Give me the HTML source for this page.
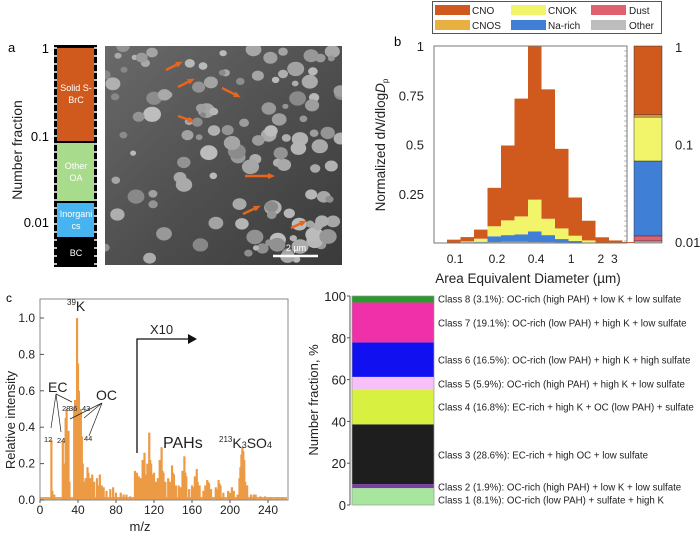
<!DOCTYPE html>
<html><head><meta charset="utf-8"><style>
body{margin:0;background:#fff;}
svg{display:block;font-family:"Liberation Sans",Arial,sans-serif;}
</style></head><body>
<svg id="fig" width="700" height="538" viewBox="0 0 700 538">
<!-- Panel a -->
<g id="pa">
<text x="8" y="52" font-size="13">a</text>
<text transform="translate(22,150) rotate(-90)" text-anchor="middle" font-size="14" fill="#222">Number fraction</text>
<text x="49" y="53" text-anchor="end" font-size="13">1</text>
<text x="49" y="141" text-anchor="end" font-size="13">0.1</text>
<text x="49" y="227" text-anchor="end" font-size="13">0.01</text>
<rect x="54" y="45" width="43" height="222" fill="#000"/>
<rect x="57" y="48" width="37" height="93" fill="#d05a1e"/>
<rect x="57" y="143" width="37" height="58" fill="#a8dc8c"/>
<rect x="57" y="203" width="37" height="34" fill="#45b4f0"/>
<g font-size="9" fill="#fff" text-anchor="middle">
<text x="76" y="91">Solid S-</text>
<text x="76" y="103">BrC</text>
<text x="76" y="169">Other</text>
<text x="76" y="181">OA</text>
<text x="76" y="217">Inorgani</text>
<text x="76" y="229">cs</text>
<text x="76" y="256">BC</text>
</g>
<g id="aticks"></g>
<defs><linearGradient id="semg" x1="0" y1="0" x2="1" y2="1"><stop offset="0" stop-color="#6a6a6a"/><stop offset="0.5" stop-color="#505050"/><stop offset="1" stop-color="#3a3a3a"/></linearGradient>
<clipPath id="semclip"><rect x="105" y="46" width="237" height="219"/></clipPath></defs>
<g clip-path="url(#semclip)">
<rect x="105" y="46" width="237" height="219" fill="url(#semg)"/>
<g id="semdots"></g>
</g>
<g id="semarrows" stroke="#e8651e" stroke-width="2.5" fill="#e8651e"></g>
<line x1="273" y1="256" x2="318" y2="256" stroke="#fff" stroke-width="2.5"/>
<text x="296" y="251" fill="#fff" font-size="9" text-anchor="middle">2 µm</text>
</g>

<!-- Panel b -->
<g id="pb">
<rect x="432.5" y="1.5" width="229" height="32" fill="#fff" stroke="#555"/>
<g id="blegend" font-size="10"></g>
<text x="394" y="46" font-size="13">b</text>
<text transform="translate(385,145) rotate(-90)" text-anchor="middle" font-size="13.5" fill="#222">Normalized d<tspan font-style="italic">N</tspan>/dlog<tspan font-style="italic">D</tspan><tspan font-size="8" dy="3">p</tspan></text>
<g id="bplot"></g>
<text x="528" y="283" text-anchor="middle" font-size="13.5" fill="#222">Area Equivalent Diameter (µm)</text>
<g id="bside"></g>
</g>

<!-- Panel c -->
<g id="pc">
<text x="6" y="302" font-size="12">c</text>
<text transform="translate(15,420) rotate(-90)" text-anchor="middle" font-size="13" fill="#222">Relative intensity</text>
<text x="140" y="531" text-anchor="middle" font-size="13" fill="#222">m/z</text>
<g id="cplot"></g>
</g>

<!-- Panel d -->
<g id="pd">
<text transform="translate(318,400) rotate(-90)" text-anchor="middle" font-size="13" fill="#222">Number fraction, %</text>
<g id="dplot"></g>
</g>
</svg>
<script>
// ---------- Panel b data ----------
const bBins = [1,2,3,4,5,6,7,8,9,10,11,12,13,14,15];
const bOther = [0,0.003,0.004,0.005,0.006,0.006,0.005,0.004,0.003,0.002,0,0,0,0,0];
const bNaRich = [0,0.001,0.002,0.029,0.034,0.038,0.054,0.036,0.017,0.008,0.003,0,0,0,0];
const bCNOK = [0,0.004,0.016,0.051,0.075,0.091,0.161,0.083,0.054,0.027,0.01,0.002,0,0,0];
const bCNO = [0.017,0.022,0.046,0.195,0.38,0.598,0.78,0.657,0.404,0.194,0.1,0.027,0.013,0.005,0.003];
const bYTicks = [0.25,0.5,0.75,1];
const bXTickLabels = ["0.1","0.2","0.4","1","2","3"];
const bXTickPos = [0.6,3.7,6.6,9.2,11.4,12.4];
const bSideBounds = [0.01,0.0105,0.0118,0.068,0.19,0.2,1];
const bSideNames = ["other","dust","na-rich","cnok","cnos","cno"];
const bSideTicks = [1,0.1,0.01];
const bColors = {cno:"#d05a1e",cnos:"#e8b040",cnok:"#f2f56a",narich:"#3f7fd6",dust:"#e06070",other:"#bdbdbd"};

// ---------- Panel c data ----------
const cMz = [12,13,15,24,25,26,27,28,29,30,31,36,37,38,39,40,41,42,43,44,45,46,48,50,51,52,53,55,56,57,60,62,63,65,67,70,74,77,80,85,88,91,95,
 100,101,102,103,104,105,106,108,109,110,111,113,114,115,116,117,119,120,122,124,126,127,128,129,130,132,135,137,139,140,141,143,146,148,150,151,152,153,154,157,160,162,163,164,165,166,168,172,174,176,177,178,180,185,187,188,189,190,193,198,200,202,204,208,210,211,212,213,214,215,216,218,222,225,227,232,237,243,250,255];
const cInt = [0.33,0.05,0.03,0.32,0.1,0.2,0.45,0.5,0.35,0.38,0.1,0.5,0.55,0.35,1.0,0.75,0.6,0.45,0.5,0.35,0.2,0.1,0.12,0.18,0.15,0.1,0.12,0.14,0.08,0.1,0.12,0.08,0.14,0.08,0.07,0.05,0.06,0.07,0.04,0.04,0.03,0.03,0.02,
 0.16,0.14,0.15,0.12,0.13,0.11,0.12,0.22,0.2,0.26,0.14,0.2,0.18,0.37,0.22,0.2,0.14,0.15,0.1,0.12,0.22,0.2,0.29,0.16,0.15,0.1,0.12,0.1,0.19,0.15,0.14,0.08,0.08,0.07,0.16,0.13,0.24,0.15,0.13,0.06,0.08,0.07,0.13,0.12,0.17,0.1,0.08,0.05,0.08,0.11,0.1,0.09,0.06,0.07,0.06,0.11,0.09,0.08,0.04,0.05,0.04,0.07,0.05,0.03,0.12,0.18,0.25,0.29,0.27,0.22,0.1,0.08,0.03,0.03,0.03,0.02,0.02,0.015,0.015,0.012];
const cYTicks = [0,0.2,0.4,0.6,0.8,1.0];
const cXTicks = [0,40,80,120,160,200,240];

// ---------- Panel d data ----------
const dClasses = ["Class 1 (8.1%): OC-rich (low PAH) + sulfate + high K","Class 2 (1.9%): OC-rich (high PAH) + low K + low sulfate","Class 3 (28.6%): EC-rich + high OC + low sulfate","Class 4 (16.8%): EC-rich + high K + OC (low PAH) + sulfate","Class 5 (5.9%): OC-rich (high PAH) + high K + low sulfate","Class 6 (16.5%): OC-rich (low PAH) + high K + high sulfate","Class 7 (19.1%): OC-rich (low PAH) + high K + low sulfate","Class 8 (3.1%): OC-rich (high PAH) + low K + low sulfate"];
const dValues = [8.1,1.9,28.6,16.8,5.9,16.5,19.1,3.1];
const dColors = ["#a8e6a0","#7b3fa0","#1e1e1e","#d8f040","#f8c0f8","#1010f0","#f030a8","#2a9a2a"];
const dLabelY = [500,487,455,407,384,360,323,299];
const dYTicks = [0,20,40,60,80,100];

const NS="http://www.w3.org/2000/svg";
function mk(parent,tag,attrs,txt){const e=document.createElementNS(NS,tag);for(const k in attrs)e.setAttribute(k,attrs[k]);if(txt!==undefined)e.textContent=txt;parent.appendChild(e);return e;}

// ---- panel a ticks
const at=document.getElementById('aticks');
for(let i=0;i<28;i++){const y=48+i*8;
 let t=mk(at,'line',{x1:54,x2:57,y1:y,y2:y,stroke:'#fff','stroke-width':1.5});
 
 
 t=mk(at,'line',{x1:94,x2:97,y1:y,y2:y,stroke:'#fff','stroke-width':1.5});
 
 }
// ---- SEM image particles (decorative texture)
const sd=document.getElementById('semdots');let seed=7;function rnd(){seed=(seed*16807)%2147483647;return seed/2147483647;}
for(let i=0;i<130;i++){const x=105+rnd()*237,y=46+rnd()*219,r=3+rnd()*6,g=Math.floor(135+rnd()*55);
 const c=mk(sd,'ellipse',{cx:x.toFixed(1),cy:y.toFixed(1),rx:r.toFixed(1),ry:(r*0.85).toFixed(1),fill:`rgb(${g},${g},${g})`});
 
 }
[[166,70,180,63],[178,87,192,80],[222,88,238,96],[178,116,192,121],[245,176,272,176],[243,214,258,207],[291,228,304,222]].forEach(a=>{
 const g=document.getElementById('semarrows');
 const l=mk(g,'line',{x1:a[0],y1:a[1],x2:a[2],y2:a[3]});
 
 
 const ang=Math.atan2(a[3]-a[1],a[2]-a[0]),s=5;
 const p=mk(g,'polygon',{points:`${a[2]+Math.cos(ang)*3},${a[3]+Math.sin(ang)*3} ${a[2]+Math.cos(ang+2.5)*s},${a[3]+Math.sin(ang+2.5)*s} ${a[2]+Math.cos(ang-2.5)*s},${a[3]+Math.sin(ang-2.5)*s}`,stroke:'none'});
 
 });

// ---- panel b legend
const bl=document.getElementById('blegend');
[["CNO",bColors.cno,435,5],["CNOK",bColors.cnok,511,5],["Dust",bColors.dust,591,5],["CNOS",bColors.cnos,435,20],["Na-rich",bColors.narich,511,20],["Other",bColors.other,591,20]].forEach(e=>{
 const r=mk(bl,'rect',{x:e[2],y:e[3],width:35,height:10,fill:e[1]});
 
 
 const t=mk(bl,'text',{x:e[2]+ (e[0]==="Dust"||e[0]==="Other"?38:37),y:e[3]+9,fill:'#222'},e[0]);
 
 });

// ---- panel b histogram
const bp=document.getElementById('bplot');
const bx0=447,bw=13.5,bY0=243,bY1=46;
const bxs=i=>bx0+i*bw; const bys=v=>bY0-v*(bY0-bY1);
bBins.forEach((b,i)=>{let base=0;
 [[bOther[i],bColors.other,'other'],[bNaRich[i],bColors.narich,'na-rich'],[bCNOK[i],bColors.cnok,'cnok'],[bCNO[i],bColors.cno,'cno']].forEach(s=>{
  if(s[0]<=0)return;const y1=bys(base+s[0]),y0=bys(base);
  const r=mk(bp,'rect',{x:bxs(b-1),y:y1,width:bw,height:y0-y1,fill:s[1]});
  
  
  base+=s[0];});});
let fr=mk(bp,'rect',{x:434,y:46,width:193,height:197,fill:'none',stroke:'#777','stroke-width':1});


bYTicks.forEach(v=>{const t=mk(bp,'text',{x:424,y:bys(v)+5,'text-anchor':'end','font-size':13,fill:'#222'},String(v));
 
 });
bXTickLabels.forEach((l,i)=>{const t=mk(bp,'text',{x:bx0+bXTickPos[i]*bw,y:263,'text-anchor':'middle','font-size':12,fill:'#222'},l);
 
 });
for(let i=0;i<40;i++){const y=46+i*5;const t=mk(bp,'line',{x1:624,x2:627,y1:y,y2:y,stroke:'#888','stroke-width':0.6});
 
 }
// side bar
const bs=document.getElementById('bside');
const sys=v=>46+(-Math.log10(v))*98.5;
const sideCols=[bColors.other,bColors.dust,bColors.narich,bColors.cnok,bColors.cnos,bColors.cno];
for(let i=0;i<bSideNames.length;i++){const y1=sys(bSideBounds[i+1]),y0=sys(bSideBounds[i]);
 const r=mk(bs,'rect',{x:634,y:y1,width:28,height:y0-y1,fill:sideCols[i],stroke:'#333','stroke-width':0.5});
 
 }
bSideTicks.forEach(v=>{const t=mk(bs,'text',{x:675,y:sys(v)+(v===1?6:v===0.01?4:5),'font-size':13,fill:'#222'},String(v));
 
 });

// ---- panel c
const cp=document.getElementById('cplot');
const cxs=m=>40+m*0.95, cys=v=>500-v*182;
let bgp=mk(cp,'rect',{x:40,y:497,width:247,height:3,fill:'#eca55a'});


cMz.forEach((m,i)=>{const y=cys(cInt[i]);
 const r=mk(cp,'rect',{x:cxs(m)-1.1,y:y,width:2.2,height:500-y,fill:'#ec9a44'});
 
 });
fr=mk(cp,'rect',{x:40,y:299,width:248,height:201,fill:'none',stroke:'#888','stroke-width':1});


cYTicks.forEach(v=>{const t=mk(cp,'text',{x:35,y:cys(v)+4,'text-anchor':'end','font-size':12,fill:'#222'},v.toFixed(1));
 
 
 const l=mk(cp,'line',{x1:40,x2:44,y1:cys(v),y2:cys(v),stroke:'#555'});
 
 });
cXTicks.forEach(v=>{const t=mk(cp,'text',{x:cxs(v),y:514,'text-anchor':'middle','font-size':12,fill:'#222'},String(v));
 
 
 const l=mk(cp,'line',{x1:cxs(v),x2:cxs(v),y1:500,y2:503,stroke:'#555'});
 
 });
cp.insertAdjacentHTML('beforeend',`
<text x="67" y="311" font-size="14" fill="#222"><tspan font-size="8" dy="-6">39</tspan><tspan dy="6">K</tspan></text>
<path d="M137,453 V339 H190" fill="none" stroke="#111" stroke-width="1.3"/>
<polygon points="197,339 188,334 188,344" fill="#111"/>
<text x="150" y="334" font-size="13" fill="#222">X10</text>
<text x="48" y="392" font-size="14" fill="#222">EC</text>
<text x="96" y="400" font-size="14" fill="#222">OC</text>
<g stroke="#222" stroke-width="0.7" fill="none">
<path d="M56,394 L51,428 M56,394 L61,432 M56,394 L72,402"/>
<path d="M102,403 L70,419 M102,403 L84,418 M102,403 L89,436"/>
</g>
<g font-size="7.5" fill="#222">
<text x="44" y="442">12</text>
<text x="57" y="443">24</text>
<text x="62" y="411">28</text>
<text x="69" y="411">36</text>
<text x="82" y="411">43</text>
<text x="84" y="441">44</text>
</g>
<text x="163" y="448" font-size="16" fill="#222">PAHs</text>
<text x="219" y="448" font-size="14" fill="#222"><tspan font-size="8" dy="-6">213</tspan><tspan dy="6">K</tspan><tspan font-size="9">3</tspan><tspan>SO</tspan><tspan font-size="9">4</tspan></text>`);

// ---- panel d
const dp=document.getElementById('dplot');
const dys=v=>505-v*2.09;
let cum=0;
dValues.forEach((v,i)=>{const y1=dys(cum+v),y0=dys(cum);
 const r=mk(dp,'rect',{x:352,y:y1,width:82,height:y0-y1,fill:dColors[i]});
 
 
 cum+=v;
 const t=mk(dp,'text',{x:438,y:dLabelY[i]+3.5,'font-size':9.7,fill:'#222'},dClasses[i]);
 
 });
fr=mk(dp,'rect',{x:352,y:296,width:82,height:209,fill:'none',stroke:'#999','stroke-width':0.7});


let ax=mk(dp,'line',{x1:350,x2:350,y1:296,y2:505,stroke:'#555'});


dYTicks.forEach(v=>{const t=mk(dp,'text',{x:346,y:dys(v)+5,'text-anchor':'end','font-size':13,fill:'#222'},String(v));
 
 
 const l=mk(dp,'line',{x1:347,x2:350,y1:dys(v),y2:dys(v),stroke:'#555'});
 
 });
</script>
</body></html>
